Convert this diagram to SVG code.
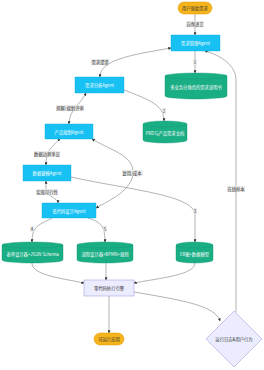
<svg xmlns="http://www.w3.org/2000/svg" width="264" height="370" viewBox="0 0 264 370">
<style>
text{font-family:"Noto Sans CJK SC","Noto Sans",sans-serif;text-anchor:middle;dominant-baseline:central}
.nt{font-size:4.3px;fill:#fff}
.nd{font-size:4.3px;fill:#333}
.lb{font-size:4.3px;fill:#333}
.lbg{fill:#e8e8e8;opacity:0.85}
.agent{fill:#17c1f4;stroke:#10a8d8;stroke-width:0.4}
.cyl{fill:#1aae85;stroke:#12966f;stroke-width:0.4}
.term{fill:#f5b31c;stroke:#e09a00;stroke-width:0.5}
.proc{fill:#ececff;stroke:#9f8fd8;stroke-width:0.5}
.e{fill:none;stroke:#555;stroke-width:0.45}
</style>
<defs>
<marker id="ah" viewBox="0 0 10 10" refX="9" refY="5" markerWidth="3" markerHeight="3" markerUnits="userSpaceOnUse" orient="auto-start-reverse">
<path d="M0,0 L10,5 L0,10 z" fill="#333"/>
</marker>
</defs>
<rect width="264" height="370" fill="#fff"/>
<g id="edges">
<path class="e" d="M195,14 L195,35" marker-end="url(#ah)"/>
<path class="e" d="M195,51 L195,73" marker-end="url(#ah)"/>
<path class="e" d="M171,48 C130,55 100,60 100,77" marker-start="url(#ah)" marker-end="url(#ah)"/>
<path class="e" d="M124,90 C150,100 164,105 164,121" marker-end="url(#ah)"/>
<path class="e" d="M86,93 C80,105 69,110 69,124" marker-start="url(#ah)" marker-end="url(#ah)"/>
<path class="e" d="M60,139 C50,148 46,152 46,165" marker-start="url(#ah)" marker-end="url(#ah)"/>
<path class="e" d="M46,181 L46,190 C46,196 58,198 58,203" marker-start="url(#ah)" marker-end="url(#ah)"/>
<path class="e" d="M92,139 C110,150 133,155 133,172 C133,190 110,200 96,208" marker-start="url(#ah)" marker-end="url(#ah)"/>
<path class="e" d="M71,177 C130,190 195,195 195,215 L195,242" marker-end="url(#ah)"/>
<path class="e" d="M52,218 C40,225 32,225 32,242" marker-end="url(#ah)"/>
<path class="e" d="M88,218 C100,222 105,225 105,242" marker-end="url(#ah)"/>
<path class="e" d="M32,263 C32,275 60,278 84,283" marker-end="url(#ah)"/>
<path class="e" d="M106,263 L106,280" marker-end="url(#ah)"/>
<path class="e" d="M195,263 C195,275 160,278 134,283" marker-end="url(#ah)"/>
<path class="e" d="M109,296 L109,333" marker-end="url(#ah)"/>
<path class="e" d="M134,292 C180,300 215,305 220,321" marker-end="url(#ah)"/>
<path class="e" d="M236,312 L236,80 C236,65 220,55 205,51" marker-end="url(#ah)"/>
<rect class="lbg" x="186" y="21" width="18" height="6"/><text class="lb" x="195" y="24">自然语言</text>
<rect class="lbg" x="193" y="59" width="4" height="6"/><text class="lb" x="195" y="62">1</text>
<rect class="lbg" x="91" y="59" width="18" height="6"/><text class="lb" x="100" y="62">需求澄清</text>
<rect class="lbg" x="162" y="108" width="4" height="6"/><text class="lb" x="164" y="111">2</text>
<rect class="lbg" x="56" y="105" width="28" height="6"/><text class="lb" x="70" y="108">拆解/规划评审</text>
<rect class="lbg" x="34" y="151" width="26" height="6"/><text class="lb" x="47" y="154">数据边界争议</text>
<rect class="lbg" x="36" y="189" width="22" height="6"/><text class="lb" x="47" y="192">实现可行性</text>
<rect class="lbg" x="122" y="170" width="21" height="6"/><text class="lb" x="132" y="173">复用/成本</text>
<rect class="lbg" x="193" y="208" width="4" height="6"/><text class="lb" x="195" y="211">3</text>
<rect class="lbg" x="30" y="226" width="4" height="6"/><text class="lb" x="32" y="229">4</text>
<rect class="lbg" x="103" y="226" width="4" height="6"/><text class="lb" x="105" y="229">5</text>
<rect class="lbg" x="227" y="186" width="18" height="6"/><text class="lb" x="236" y="189">在线样本</text>
</g>
<g id="start">
<rect class="term" x="178" y="2" width="34" height="12" rx="6"/>
<text class="nd" x="195" y="8">用户原始需求</text>
</g>
<g id="reqMgr">
<rect class="agent" x="171" y="35" width="49" height="16"/>
<text class="nt" x="195.5" y="43">需求管理Agent</text>
</g>
<g id="reqDoc">
<path class="cyl" d="M165,76 a31,3 0 0 0 62,0 a31,3 0 0 0 -62,0 l0,20 a31,3 0 0 0 62,0 l0,-20"/>
<text class="nt" x="196" y="87">多业务分角色的需求说明书</text>
</g>
<g id="reqAna">
<rect class="agent" x="75" y="77" width="49" height="16"/>
<text class="nt" x="99.5" y="85">需求分析Agent</text>
</g>
<g id="prd">
<path class="cyl" d="M143,124 a22,3 0 0 0 44,0 a22,3 0 0 0 -44,0 l0,16 a22,3 0 0 0 44,0 l0,-16"/>
<text class="nt" x="165" y="133">PRD与产品需求文档</text>
</g>
<g id="prodPlan">
<rect class="agent" x="45" y="124" width="48" height="15"/>
<text class="nt" x="69" y="131.5">产品规划Agent</text>
</g>
<g id="dataModel">
<rect class="agent" x="23" y="165" width="48" height="16"/>
<text class="nt" x="47" y="173">数据建模Agent</text>
</g>
<g id="lowCode">
<rect class="agent" x="42" y="203" width="54" height="15"/>
<text class="nt" x="69" y="210.5">低代码设计Agent</text>
</g>
<g id="form">
<path class="cyl" d="M2,245 a30.5,3 0 0 0 61,0 a30.5,3 0 0 0 -61,0 l0,15 a30.5,3 0 0 0 61,0 l0,-15"/>
<text class="nt" x="32.5" y="253.5">表单设计器+JSON Schema</text>
</g>
<g id="flow">
<path class="cyl" d="M77,245 a28,3 0 0 0 56,0 a28,3 0 0 0 -56,0 l0,15 a28,3 0 0 0 56,0 l0,-15"/>
<text class="nt" x="105" y="253.5">流程设计器+BPMN+规则</text>
</g>
<g id="er">
<path class="cyl" d="M176,245 a18.5,3 0 0 0 37,0 a18.5,3 0 0 0 -37,0 l0,15 a18.5,3 0 0 0 37,0 l0,-15"/>
<text class="nt" x="194.5" y="253.5">ER图+数据模型</text>
</g>
<g id="engine">
<rect class="proc" x="84" y="280" width="50" height="16"/>
<text class="nd" x="109" y="288">零代码执行引擎</text>
</g>
<g id="app">
<rect class="term" x="94" y="333" width="30" height="12" rx="6"/>
<text class="nd" x="109" y="339">可运行应用</text>
</g>
<g id="logs">
<polygon class="proc" points="234,311 262,339 234,367 206,339"/>
<text class="nd" x="234" y="339">运行日志&amp;用户行为</text>
</g>
</svg>
